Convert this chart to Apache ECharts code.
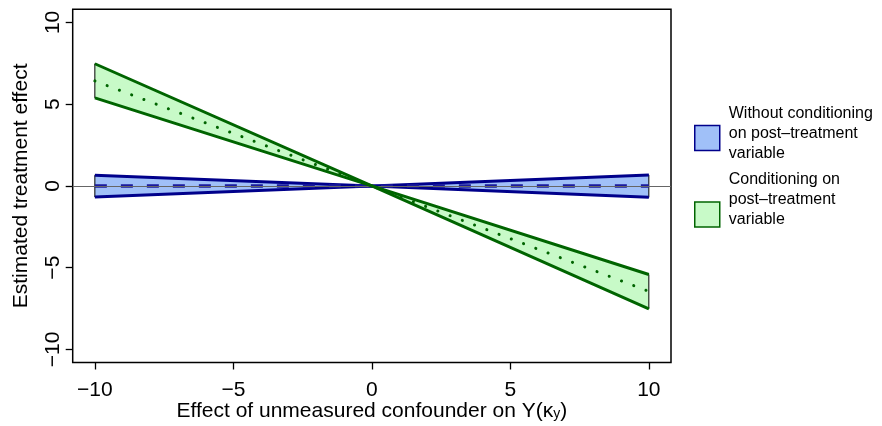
<!DOCTYPE html>
<html><head><meta charset="utf-8">
<script src="https://cdn.jsdelivr.net/npm/echarts@6/dist/echarts.min.js"></script>
<style>html,body{margin:0;padding:0;background:#fff}#c{width:882px;height:426px}</style>
</head><body><div id="c"></div>
<script>
// x positions of the band vertices
const kappa = [-10, 0, 10];
// Without conditioning (blue)
const blueUpper = [0.65, 0, 0.67];
const blueLower = [-0.68, 0, -0.70];
const blueMid = [0, 0, 0];
// Conditioning on post-treatment (green)
const greenUpper = [7.47, 0, -5.42];
const greenLower = [5.38, 0, -7.52];
const greenMid = [6.42, 0, -6.45];
// tick labels
const xTicks = [-10, -5, 0, 5, 10];
const yTicks = [-10, -5, 0, 5, 10];
const blueLines = ['Without conditioning', 'on post\u2013treatment', 'variable'];
const greenLines = ['Conditioning on', 'post\u2013treatment', 'variable'];
const nameBlue = blueLines.join('\n');
const nameGreen = greenLines.join('\n');

const FONT = '"Liberation Sans", Arial, Helvetica, sans-serif';
const fmt = v => String(v).replace('-', '\u2212');
const pts = arr => kappa.map((x, i) => [x, arr[i]]);

function bandSeries(name, upper, lower, fill, z) {
  return {
    type: 'custom', name: name, z: z,
    data: [[0, 0]],
    itemStyle: { color: fill },
    renderItem: function (params, api) {
      const poly = [];
      kappa.forEach((x, i) => poly.push(api.coord([x, upper[i]])));
      for (let i = kappa.length - 1; i >= 0; i--) poly.push(api.coord([kappa[i], lower[i]]));
      return { type: 'polygon', shape: { points: poly }, style: { fill: fill, stroke: '#000', lineWidth: 1 } };
    }
  };
}
function edgeSeries(name, arr, color, z, type, w) {
  return {
    type: 'line', name: name, z: z, data: pts(arr), showSymbol: false, symbol: 'none', silent: true,
    lineStyle: { color: color, width: w || 3, type: type || 'solid', cap: 'butt' }
  };
}

const chart = echarts.init(document.getElementById('c'));
chart.setOption({
  animation: false,
  textStyle: { fontFamily: FONT },
  grid: { left: 72.7, right: 211, top: 9.3, bottom: 63.5, outerBoundsMode: 'none', containLabel: false,
    show: true, borderColor: '#000', borderWidth: 1.5, backgroundColor: 'transparent' },
  xAxis: {
    type: 'value', min: -10.8, max: 10.8,
    axisLine: { show: false, onZero: false },
    splitLine: { show: false },
    axisTick: { show: true, length: 7, lineStyle: { color: '#000', width: 1.3 }, customValues: xTicks },
    axisLabel: { fontSize: 21, color: '#000', margin: 17, fontFamily: FONT, customValues: xTicks, formatter: fmt },
    name: 'Effect of unmeasured confounder on Y(\u03ba{s|y})',
    nameLocation: 'middle', nameGap: 38, nameMoveOverlap: false,
    nameTextStyle: { fontSize: 21, color: '#000', fontFamily: FONT,
      rich: { s: { fontSize: 14, color: '#000', fontFamily: FONT, verticalAlign: 'bottom', padding: [7, 0, 0, 0] } } }
  },
  yAxis: {
    type: 'value', min: -10.8, max: 10.8,
    axisLine: { show: false, onZero: false },
    splitLine: { show: false },
    axisTick: { show: true, length: 7, lineStyle: { color: '#000', width: 1.3 }, customValues: yTicks },
    axisLabel: { fontSize: 21, color: '#000', margin: 9, rotate: 90, fontFamily: FONT, customValues: yTicks, formatter: fmt },
    name: 'Estimated treatment effect',
    nameLocation: 'middle', nameGap: 41, nameMoveOverlap: false,
    nameTextStyle: { fontSize: 21, color: '#000', fontFamily: FONT }
  },
  legend: {
    orient: 'vertical', left: 694, top: 104, padding: 0,
    icon: 'rect', itemWidth: 25, itemHeight: 25, itemGap: -2,
    textStyle: { fontSize: 16, lineHeight: 20, color: '#000', fontFamily: FONT,
      rich: {
        t: { fontSize: 16, lineHeight: 20, color: '#000', fontFamily: FONT, padding: [0, 0, 0, 4] },
        g1: { height: 8, lineHeight: 8, fontSize: 1 },
        g2: { height: 29, lineHeight: 29, fontSize: 1 }
      } },
    formatter: function (name) {
      const lines = name.split('\n').map(s => '{t|' + s + '}');
      lines.push(name === nameBlue ? '{g1| }' : '{g2| }');
      return lines.join('\n');
    },
    data: [
      { name: nameBlue, itemStyle: { color: '#a0c0f8', borderColor: '#00008b', borderWidth: 1.5 } },
      { name: nameGreen, itemStyle: { color: '#c8fac8', borderColor: '#006400', borderWidth: 1.5 } }
    ],
    selectedMode: false
  },
  series: [
    bandSeries(nameBlue, blueUpper, blueLower, '#a0c0f8', 2),
    {
      type: 'line', name: 'zero', z: 3, data: [], silent: true,
      markLine: { silent: true, symbol: ['none', 'none'], label: { show: false },
        lineStyle: { color: '#666', width: 1.2, type: 'solid' }, data: [{ yAxis: 0 }] }
    },
    edgeSeries(nameBlue, blueUpper, '#00008b', 4),
    edgeSeries(nameBlue, blueLower, '#00008b', 4),
    edgeSeries(nameBlue, blueMid, '#1a1a9c', 4, [12, 14], 3.5),
    bandSeries(nameGreen, greenUpper, greenLower, '#c8fac8', 5),
    edgeSeries(nameGreen, greenUpper, '#006400', 6),
    edgeSeries(nameGreen, greenLower, '#006400', 6),
    {
      type: 'line', name: nameGreen, z: 6, data: pts(greenMid), showSymbol: false, symbol: 'none', silent: true,
      lineStyle: { color: '#006400', width: 3, type: [0.1, 13], cap: 'round' }
    }
  ]
});
</script></body></html>
